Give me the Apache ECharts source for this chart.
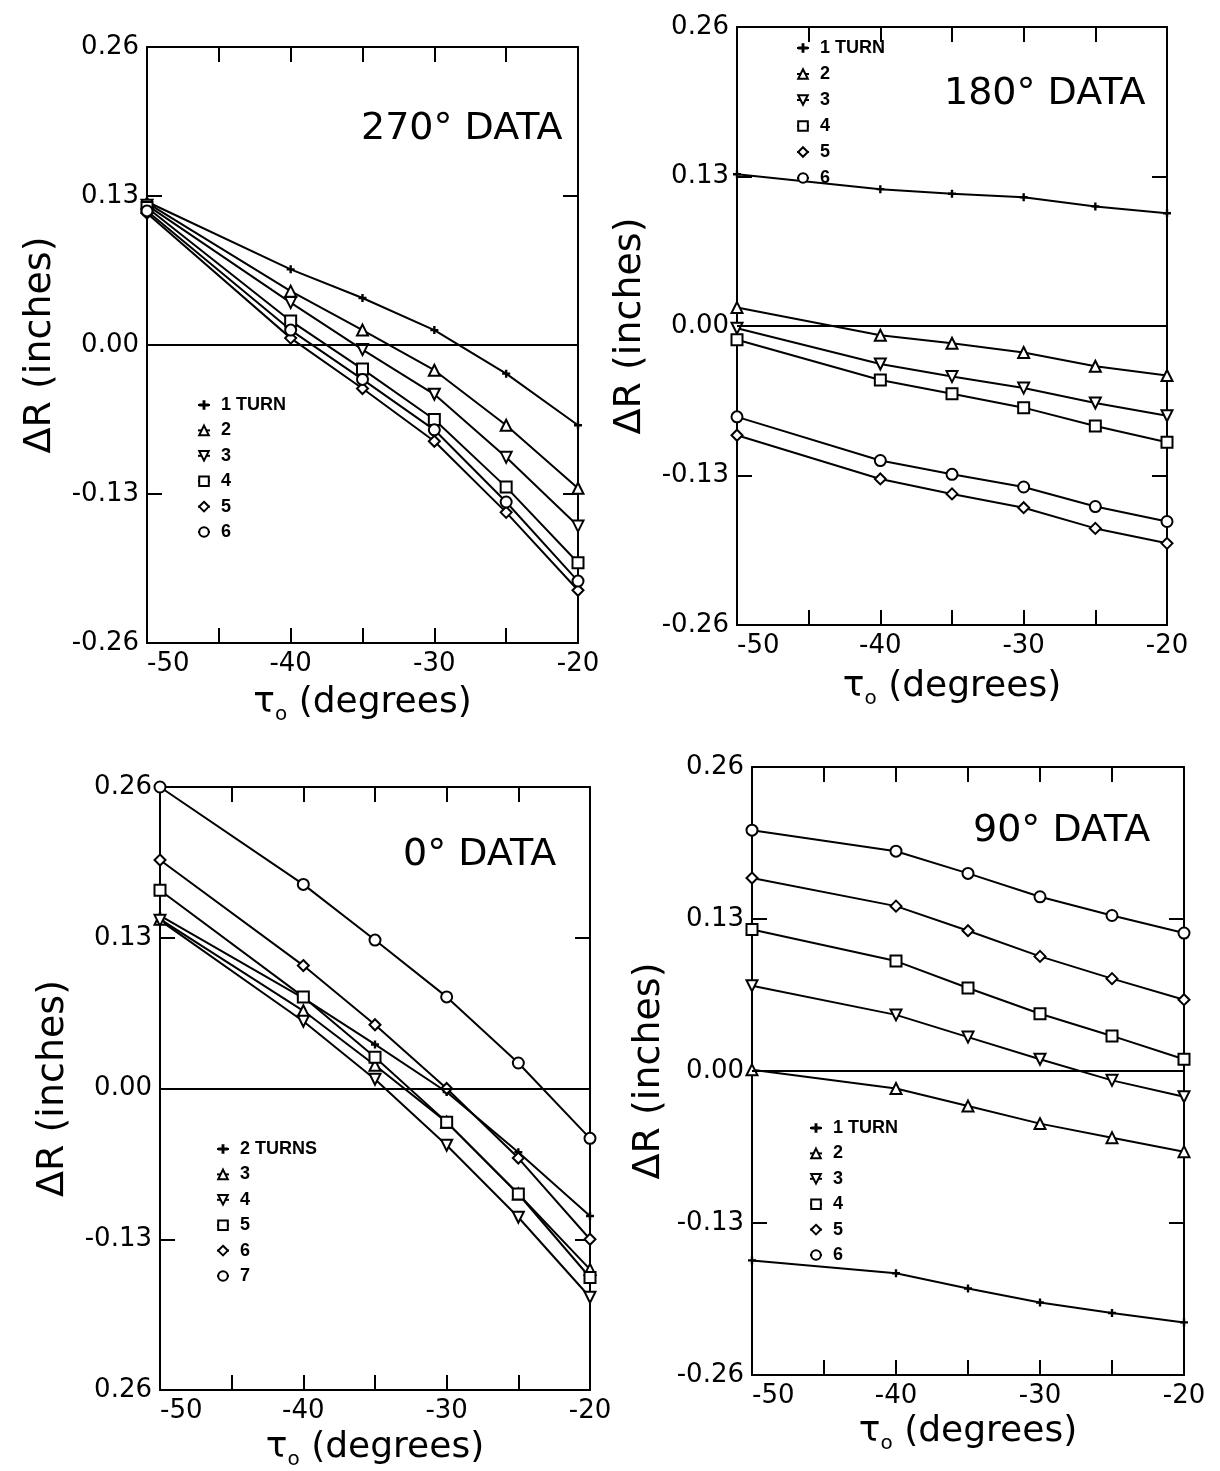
<!DOCTYPE html>
<html><head><meta charset="utf-8">
<script src="https://cdn.jsdelivr.net/npm/echarts@6/dist/echarts.min.js"></script>
<style>html,body{margin:0;padding:0;background:#fff}#c{width:1220px;height:1471px}</style>
</head><body><div id="c"></div>
<script>
// ---- data ----
const tau = [-50, -40, -35, -30, -25, -20];           // τo (degrees)
const yTickValues = [-0.26, -0.13, 0.00, 0.13, 0.26];  // ΔR tick marks
const xLabelValues = [-50, -40, -30, -20];

// 270° DATA
const d270_1 = [0.125, 0.066, 0.041, 0.013, -0.025, -0.070];
const d270_2 = [0.124, 0.047, 0.013, -0.022, -0.070, -0.125];
const d270_3 = [0.122, 0.037, -0.004, -0.043, -0.098, -0.158];
const d270_4 = [0.120, 0.021, -0.021, -0.065, -0.124, -0.190];
const d270_5 = [0.115, 0.006, -0.038, -0.084, -0.146, -0.214];
const d270_6 = [0.117, 0.013, -0.030, -0.074, -0.137, -0.206];
const labels270 = ['1 TURN', '2', '3', '4', '5', '6'];

// 180° DATA
const d180_1 = [0.132, 0.119, 0.115, 0.112, 0.104, 0.098];
const d180_2 = [0.016, -0.008, -0.015, -0.023, -0.035, -0.043];
const d180_3 = [-0.002, -0.033, -0.044, -0.054, -0.067, -0.078];
const d180_4 = [-0.012, -0.047, -0.059, -0.071, -0.087, -0.101];
const d180_5 = [-0.095, -0.133, -0.146, -0.158, -0.176, -0.189];
const d180_6 = [-0.079, -0.117, -0.129, -0.140, -0.157, -0.170];
const labels180 = ['1 TURN', '2', '3', '4', '5', '6'];

// 0° DATA
const d0_2 = [0.149, 0.078, 0.038, -0.003, -0.055, -0.110];
const d0_3 = [0.146, 0.067, 0.020, -0.029, -0.091, -0.156];
const d0_4 = [0.145, 0.058, 0.008, -0.049, -0.111, -0.180];
const d0_5 = [0.171, 0.079, 0.027, -0.029, -0.091, -0.163];
const d0_6 = [0.197, 0.106, 0.055, 0.000, -0.060, -0.130];
const d0_7 = [0.260, 0.176, 0.128, 0.079, 0.022, -0.043];
const labels0 = ['2 TURNS', '3', '4', '5', '6', '7'];

// 90° DATA
const d90_1 = [-0.162, -0.173, -0.186, -0.198, -0.207, -0.215];
const d90_2 = [0.001, -0.015, -0.030, -0.045, -0.057, -0.069];
const d90_3 = [0.073, 0.048, 0.029, 0.010, -0.008, -0.022];
const d90_4 = [0.121, 0.094, 0.071, 0.049, 0.030, 0.010];
const d90_5 = [0.165, 0.141, 0.120, 0.098, 0.079, 0.061];
const d90_6 = [0.206, 0.188, 0.169, 0.149, 0.133, 0.118];
const labels90 = ['1 TURN', '2', '3', '4', '5', '6'];

// ---- styling / layout ----
const SYM = {
  plus: 'path://M3.5,0H6.5V3.5H10V6.5H6.5V10H3.5V6.5H0V3.5H3.5Z',
  up: 'triangle',
  down: 'path://M0,0L10,0L5,8.66Z',
  square: 'rect',
  diamond: 'diamond',
  circle: 'circle'
};
const symOrder = ['plus', 'up', 'down', 'square', 'diamond', 'circle'];

const panels = [
  { key: '270', title: '270° DATA', series: [d270_1, d270_2, d270_3, d270_4, d270_5, d270_6], labels: labels270,
    grid: { left: 147, top: 47, width: 431, height: 596 }, titlePos: [361, 110],
    legend: [197, 396, 7.4], xGap: 38, yGap: 88, bottomPlain: false },
  { key: '180', title: '180° DATA', series: [d180_1, d180_2, d180_3, d180_4, d180_5, d180_6], labels: labels180,
    grid: { left: 737, top: 27, width: 430, height: 598 }, titlePos: [944, 75],
    legend: [796, 39, 8], xGap: 40, yGap: 88, bottomPlain: false },
  { key: '0', title: '0° DATA', series: [d0_2, d0_3, d0_4, d0_5, d0_6, d0_7], labels: labels0,
    grid: { left: 160, top: 787, width: 430, height: 604 }, titlePos: [403, 836],
    legend: [216, 1140, 7.4], xGap: 36, yGap: 88, bottomPlain: true },
  { key: '90', title: '90° DATA', series: [d90_1, d90_2, d90_3, d90_4, d90_5, d90_6], labels: labels90,
    grid: { left: 752, top: 767, width: 432, height: 608 }, titlePos: [973, 812],
    legend: [809, 1119, 7.4], xGap: 32, yGap: 84, bottomPlain: false }
];

const FONT = 'DejaVu Sans';
function fmtY(v) { return Math.abs(v) < 1e-9 ? '0.00' : v.toFixed(2); }
const tickStyle = { show: true, inside: true, length: 15, lineStyle: { color: '#000', width: 2 } };
const lineAx = { show: true, onZero: false, lineStyle: { color: '#000', width: 2 } };

const option = {
  animation: false,
  backgroundColor: '#fff',
  grid: [], xAxis: [], yAxis: [], series: [], title: [], legend: []
};

panels.forEach((p, i) => {
  option.grid.push(Object.assign({ show: false, containLabel: false }, p.grid));
  option.title.push({
    text: p.title, left: p.titlePos[0], top: p.titlePos[1], padding: 0,
    textStyle: { fontFamily: FONT, fontSize: 38, fontWeight: 'normal', color: '#000' }
  });
  // bottom x axis
  option.xAxis.push({
    type: 'value', gridIndex: i, position: 'bottom', min: -50, max: -20, interval: 5,
    axisLine: lineAx, axisTick: tickStyle, splitLine: { show: false },
    axisLabel: { show: true, margin: 8, color: '#000', fontFamily: FONT, fontSize: 26, alignMinLabel: 'left',
      formatter: v => (xLabelValues.indexOf(v) >= 0 ? String(v) : '') },
    name: '{t|τ}{s|o} (degrees)', nameLocation: 'middle', nameGap: p.xGap,
    nameTextStyle: { color: '#000', fontFamily: FONT, fontSize: 36, lineHeight: 44,
      rich: { t: { fontFamily: FONT, fontSize: 36, color: '#000' },
              s: { fontFamily: FONT, fontSize: 20, color: '#000', verticalAlign: 'bottom', lineHeight: 34 } } }
  });
  // top x axis (ticks only)
  option.xAxis.push({
    type: 'value', gridIndex: i, position: 'top', min: -50, max: -20, interval: 5,
    axisLine: lineAx, axisTick: tickStyle, axisLabel: { show: false }, splitLine: { show: false }
  });
  // left y axis
  option.yAxis.push({
    type: 'value', gridIndex: i, position: 'left', min: -0.26, max: 0.26, interval: 0.13,
    axisLine: lineAx, axisTick: tickStyle, splitLine: { show: false },
    axisLabel: { show: true, margin: 8, color: '#000', fontFamily: FONT, fontSize: 26,
      formatter: v => (p.bottomPlain && v <= yTickValues[0] + 1e-9 ? fmtY(-v) : fmtY(v)) },
    name: 'ΔR (inches)', nameLocation: 'middle', nameGap: p.yGap,
    nameTextStyle: { color: '#000', fontFamily: FONT, fontSize: 38 }
  });
  // right y axis (ticks only)
  option.yAxis.push({
    type: 'value', gridIndex: i, position: 'right', min: -0.26, max: 0.26, interval: 0.13,
    axisLine: lineAx, axisTick: tickStyle, axisLabel: { show: false }, splitLine: { show: false }
  });

  const names = [];
  p.series.forEach((vals, k) => {
    const sk = symOrder[k];
    const nm = p.key + '|' + p.labels[k];
    names.push(nm);
    const filled = sk === 'plus';
    const s = {
      type: 'line', name: nm, xAxisIndex: 2 * i, yAxisIndex: 2 * i,
      data: tau.map((t, j) => [t, vals[j]]),
      symbol: SYM[sk], legendIcon: SYM[sk], symbolSize: filled ? 8 : 11,
      showAllSymbol: true, clip: false, z: 3,
      lineStyle: { color: '#000', width: 2 },
      itemStyle: filled ? { color: '#000', borderWidth: 0 } : { color: '#fff', borderColor: '#000', borderWidth: 2 }
    };
    if (k === 0) {
      s.markLine = { silent: true, symbol: 'none', animation: false,
        label: { show: false }, lineStyle: { color: '#000', width: 2, type: 'solid' },
        data: [{ yAxis: 0 }] };
    }
    option.series.push(s);
  });
  option.legend.push({
    data: names, orient: 'vertical', left: p.legend[0], top: p.legend[1], itemGap: p.legend[2],
    itemWidth: 12, itemHeight: 12, selectedMode: false, padding: 0,
    formatter: n => n.split('|')[1],
    textStyle: { color: '#000', fontFamily: 'Liberation Sans Narrow, Liberation Sans', fontWeight: 'bold', fontSize: 18, lineHeight: 17, padding: [0, 0, 0, 6] }
  });
});

const chart = echarts.init(document.getElementById('c'), null, { renderer: 'canvas' });
chart.setOption(option);
</script>
</body></html>
